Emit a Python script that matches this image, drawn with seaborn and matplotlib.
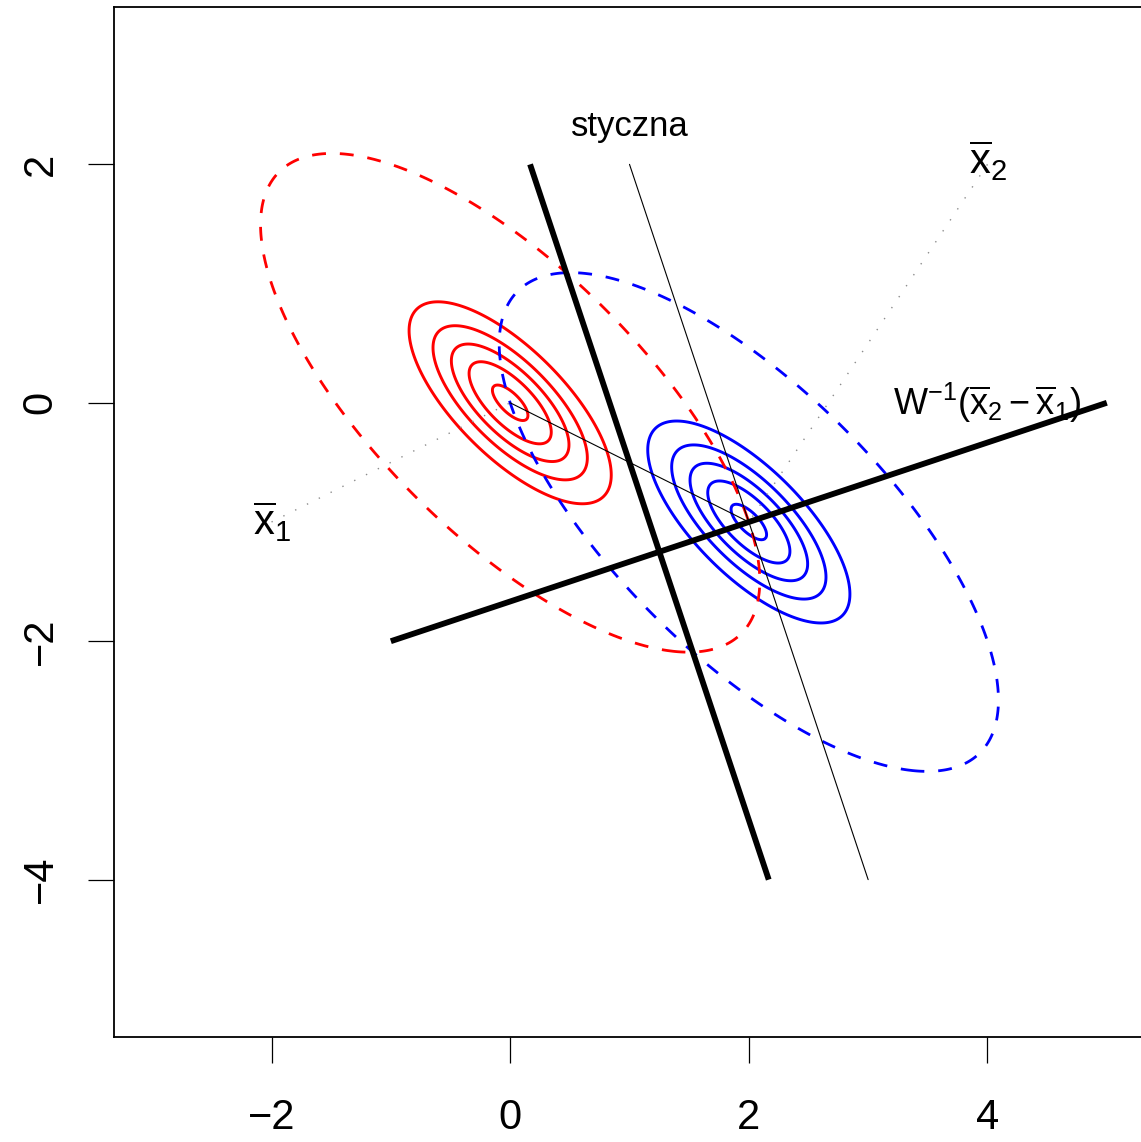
import numpy as np
import matplotlib
matplotlib.use("Agg")
import matplotlib.pyplot as plt
import seaborn as sns

# ---------------- data ----------------
mean1 = [0.0, 0.0]          # class 1 mean (red)
mean2 = [2.0, -1.0]         # class 2 mean (blue)
cov_var = 0.216             # common variance
cov_rho = -5.0 / 7.0        # common correlation
contour_levels = [0.2, 0.4, 0.6, 0.8, 1.0]

boundary_x = [1.0 / 6.0, 13.0 / 6.0]   # thick discriminant boundary
boundary_y = [2.0, -4.0]
tangent_x = [1.0, 3.0]                 # thin tangent line ("styczna")
tangent_y = [2.0, -4.0]
direction_x = [-1.0, 5.0]              # thick W^-1(x2 - x1) direction
direction_y = [-2.0, 0.0]
means_x = [0.0, 2.0]                   # thin segment between means
means_y = [0.0, -1.0]
dot1_x = [-2.0, 0.0]                   # dotted leader to mean 1
dot1_y = [-1.0, 0.0]
dot2_x = [4.0, 2.0]                    # dotted leader to mean 2
dot2_y = [2.0, -1.0]

xticks = [-2, 0, 2, 4]
yticks = [-4, -2, 0, 2]
xlim = (-3.32, 5.32)
ylim = (-5.32, 3.32)

# ---------------- style ----------------
sns.set_theme(style="white")
plt.rcParams["font.family"] = ["Liberation Sans", "DejaVu Sans"]
plt.rcParams["text.color"] = "black"
plt.rcParams["mathtext.fontset"] = "custom"
plt.rcParams["mathtext.rm"] = "Liberation Sans"
plt.rcParams["mathtext.it"] = "Liberation Sans:italic"
plt.rcParams["mathtext.bf"] = "Liberation Sans:bold"

W, H = 1141, 1142
fig = plt.figure(figsize=(W / 100, H / 100), dpi=100)
ax = fig.add_axes([114 / W, 105 / H, 1031 / W, 1030 / H])
ax.set_xlim(*xlim)
ax.set_ylim(*ylim)

# ---------------- densities ----------------
cov = np.array([[cov_var, cov_rho * cov_var], [cov_rho * cov_var, cov_var]])
icov = np.linalg.inv(cov)
norm = 1.0 / (2 * np.pi * np.sqrt(np.linalg.det(cov)))

gx = np.linspace(xlim[0], xlim[1], 700)
gy = np.linspace(ylim[0], ylim[1], 700)
GX, GY = np.meshgrid(gx, gy)


def dens(m):
    dx = GX - m[0]
    dy = GY - m[1]
    q = icov[0, 0] * dx * dx + 2 * icov[0, 1] * dx * dy + icov[1, 1] * dy * dy
    return norm * np.exp(-q / 2)


def dens_at(m, p):
    d = np.array(p) - np.array(m)
    return norm * np.exp(-(d @ icov @ d) / 2)


D1 = dens(mean1)
D2 = dens(mean2)
touch_level = dens_at(mean1, mean2)

ax.contour(GX, GY, D1, levels=contour_levels, colors="red", linewidths=2.1)
ax.contour(GX, GY, D2, levels=contour_levels, colors="blue", linewidths=2.1)
cs1 = ax.contour(GX, GY, D1, levels=[touch_level], colors="red", linewidths=2.0)
cs2 = ax.contour(GX, GY, D2, levels=[touch_level], colors="blue", linewidths=2.0)
for cs in (cs1, cs2):
    cs.set_linestyle((0, (5, 5)))

# ---------------- lines ----------------
def seg(xs, ys, **kw):
    sns.lineplot(x=xs, y=ys, sort=False, estimator=None, ax=ax,
                 legend=False, **kw)

seg(dot1_x, dot1_y, color="#8c8c8c", lw=1.0, linestyle=(0, (1, 8.5)))
seg(dot2_x, dot2_y, color="#8c8c8c", lw=1.0, linestyle=(0, (1, 8.5)))
seg(means_x, means_y, color="black", lw=0.8)
seg(tangent_x, tangent_y, color="black", lw=0.8)
seg(boundary_x, boundary_y, color="black", lw=4.2, solid_capstyle="butt")
seg(direction_x, direction_y, color="black", lw=4.2, solid_capstyle="butt")

# ---------------- labels ----------------
ax.text(1.0, 2.234, "styczna", ha="center", va="baseline", fontsize=25,
        color="black")
ax.text(4.0, 2.03, r"$\overline{\mathrm{x}}_2$", ha="center", va="center",
        fontsize=30, color="black")
ax.text(-2.0, -1.0, r"$\overline{\mathrm{x}}_1$", ha="center", va="center",
        fontsize=30, color="black")
ax.text(4.0, 0.0,
        r"$\mathrm{W}^{-1}(\overline{\mathrm{x}}_2 - \overline{\mathrm{x}}_1)$",
        ha="center", va="center", fontsize=26, color="black")

# ---------------- axes ----------------
ax.set_xticks(xticks)
ax.set_yticks(yticks)
ax.set_xticklabels([f"{v}".replace("-", "\u2212") for v in xticks])
ax.set_yticklabels([f"{v}".replace("-", "\u2212") for v in yticks])
ax.tick_params(axis="both", which="both", direction="out", length=18.5,
               width=0.9, color="black", labelsize=30, labelcolor="black",
               bottom=True, left=True, top=False, right=False)
ax.tick_params(axis="x", pad=25.5)
ax.tick_params(axis="y", pad=20)
for lab in ax.get_yticklabels():
    lab.set_rotation(90)
    lab.set_va("center")
for sp in ax.spines.values():
    sp.set_visible(True)
    sp.set_color("black")
    sp.set_linewidth(1.3)
ax.grid(False)
ax.set_facecolor("white")
fig.patch.set_facecolor("white")

fig.savefig("out.png", dpi=100, facecolor="white")
